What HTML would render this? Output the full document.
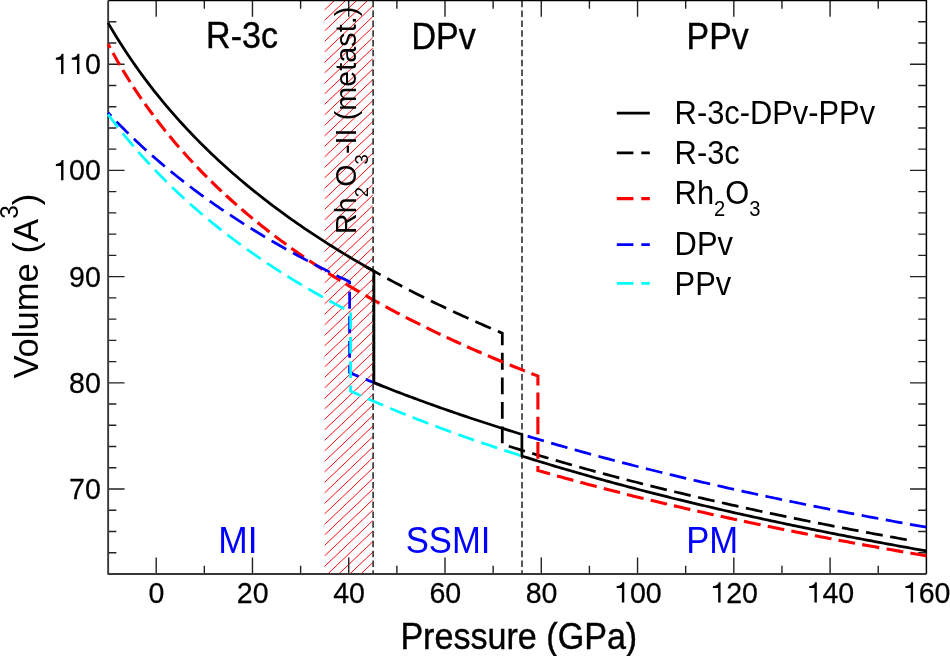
<!DOCTYPE html>
<html><head><meta charset="utf-8"><style>html,body{margin:0;padding:0;background:#fff;}svg{display:block;will-change:transform;font-family:"Liberation Sans",sans-serif;}</style></head>
<body><svg width="950" height="656" viewBox="0 0 950 656">
<rect width="950" height="656" fill="#fff"/>
<defs><clipPath id="hc"><rect x="324.67" y="0.47" width="48.13" height="573.53"/></clipPath>
<clipPath id="pc"><rect x="108.15" y="0" width="818.25" height="574.0"/></clipPath></defs>
<g clip-path="url(#hc)" stroke="#f00" stroke-width="0.95"><line x1="321.67" y1="2.19" x2="375.81" y2="-49.24"/><line x1="321.67" y1="12.69" x2="375.81" y2="-38.74"/><line x1="321.67" y1="23.19" x2="375.81" y2="-28.24"/><line x1="321.67" y1="33.69" x2="375.81" y2="-17.74"/><line x1="321.67" y1="44.19" x2="375.81" y2="-7.24"/><line x1="321.67" y1="54.69" x2="375.81" y2="3.26"/><line x1="321.67" y1="65.19" x2="375.81" y2="13.76"/><line x1="321.67" y1="75.69" x2="375.81" y2="24.26"/><line x1="321.67" y1="86.19" x2="375.81" y2="34.76"/><line x1="321.67" y1="96.69" x2="375.81" y2="45.26"/><line x1="321.67" y1="107.19" x2="375.81" y2="55.76"/><line x1="321.67" y1="117.69" x2="375.81" y2="66.26"/><line x1="321.67" y1="128.19" x2="375.81" y2="76.76"/><line x1="321.67" y1="138.69" x2="375.81" y2="87.26"/><line x1="321.67" y1="149.19" x2="375.81" y2="97.76"/><line x1="321.67" y1="159.69" x2="375.81" y2="108.26"/><line x1="321.67" y1="170.19" x2="375.81" y2="118.76"/><line x1="321.67" y1="180.69" x2="375.81" y2="129.26"/><line x1="321.67" y1="191.19" x2="375.81" y2="139.76"/><line x1="321.67" y1="201.69" x2="375.81" y2="150.26"/><line x1="321.67" y1="212.19" x2="375.81" y2="160.76"/><line x1="321.67" y1="222.69" x2="375.81" y2="171.26"/><line x1="321.67" y1="233.19" x2="375.81" y2="181.76"/><line x1="321.67" y1="243.69" x2="375.81" y2="192.26"/><line x1="321.67" y1="254.19" x2="375.81" y2="202.76"/><line x1="321.67" y1="264.69" x2="375.81" y2="213.26"/><line x1="321.67" y1="275.19" x2="375.81" y2="223.76"/><line x1="321.67" y1="285.69" x2="375.81" y2="234.26"/><line x1="321.67" y1="296.19" x2="375.81" y2="244.76"/><line x1="321.67" y1="306.69" x2="375.81" y2="255.26"/><line x1="321.67" y1="317.19" x2="375.81" y2="265.76"/><line x1="321.67" y1="327.69" x2="375.81" y2="276.26"/><line x1="321.67" y1="338.19" x2="375.81" y2="286.76"/><line x1="321.67" y1="348.69" x2="375.81" y2="297.26"/><line x1="321.67" y1="359.19" x2="375.81" y2="307.76"/><line x1="321.67" y1="369.69" x2="375.81" y2="318.26"/><line x1="321.67" y1="380.19" x2="375.81" y2="328.76"/><line x1="321.67" y1="390.69" x2="375.81" y2="339.26"/><line x1="321.67" y1="401.19" x2="375.81" y2="349.76"/><line x1="321.67" y1="411.69" x2="375.81" y2="360.26"/><line x1="321.67" y1="422.19" x2="375.81" y2="370.76"/><line x1="321.67" y1="432.69" x2="375.81" y2="381.26"/><line x1="321.67" y1="443.19" x2="375.81" y2="391.76"/><line x1="321.67" y1="453.69" x2="375.81" y2="402.26"/><line x1="321.67" y1="464.19" x2="375.81" y2="412.76"/><line x1="321.67" y1="474.69" x2="375.81" y2="423.26"/><line x1="321.67" y1="485.19" x2="375.81" y2="433.76"/><line x1="321.67" y1="495.69" x2="375.81" y2="444.26"/><line x1="321.67" y1="506.19" x2="375.81" y2="454.76"/><line x1="321.67" y1="516.69" x2="375.81" y2="465.26"/><line x1="321.67" y1="527.19" x2="375.81" y2="475.76"/><line x1="321.67" y1="537.69" x2="375.81" y2="486.26"/><line x1="321.67" y1="548.19" x2="375.81" y2="496.76"/><line x1="321.67" y1="558.69" x2="375.81" y2="507.26"/><line x1="321.67" y1="569.19" x2="375.81" y2="517.76"/><line x1="321.67" y1="579.69" x2="375.81" y2="528.26"/><line x1="321.67" y1="590.19" x2="375.81" y2="538.76"/><line x1="321.67" y1="600.69" x2="375.81" y2="549.26"/><line x1="321.67" y1="611.19" x2="375.81" y2="559.76"/><line x1="321.67" y1="621.69" x2="375.81" y2="570.26"/></g>
<g stroke="#111" stroke-width="1.4" stroke-dasharray="6.5 3.32" stroke-dashoffset="-0.3"><path d="M373.1,0.47V574.0"/><path d="M522.0,0.47V574.0"/></g>
<g stroke="#222" stroke-width="1.4" fill="none"><path d="M156.20,574.00V557.60M156.20,0.47V16.87M204.33,574.00V565.80M204.33,0.47V8.67M252.47,574.00V557.60M252.47,0.47V16.87M300.61,574.00V565.80M300.61,0.47V8.67M348.74,574.00V557.60M348.74,0.47V16.87M396.88,574.00V565.80M396.88,0.47V8.67M445.01,574.00V557.60M445.01,0.47V16.87M493.15,574.00V565.80M493.15,0.47V8.67M541.28,574.00V557.60M541.28,0.47V16.87M589.41,574.00V565.80M589.41,0.47V8.67M637.55,574.00V557.60M637.55,0.47V16.87M685.68,574.00V565.80M685.68,0.47V8.67M733.82,574.00V557.60M733.82,0.47V16.87M781.95,574.00V565.80M781.95,0.47V8.67M830.09,574.00V557.60M830.09,0.47V16.87M878.23,574.00V565.80M878.23,0.47V8.67M108.15,552.77H116.35M926.40,552.77H918.20M108.15,531.52H116.35M926.40,531.52H918.20M108.15,510.28H116.35M926.40,510.28H918.20M108.15,489.04H124.55M926.40,489.04H910.00M108.15,467.80H116.35M926.40,467.80H918.20M108.15,446.56H116.35M926.40,446.56H918.20M108.15,425.31H116.35M926.40,425.31H918.20M108.15,404.07H116.35M926.40,404.07H918.20M108.15,382.83H124.55M926.40,382.83H910.00M108.15,361.59H116.35M926.40,361.59H918.20M108.15,340.35H116.35M926.40,340.35H918.20M108.15,319.10H116.35M926.40,319.10H918.20M108.15,297.86H116.35M926.40,297.86H918.20M108.15,276.62H124.55M926.40,276.62H910.00M108.15,255.38H116.35M926.40,255.38H918.20M108.15,234.14H116.35M926.40,234.14H918.20M108.15,212.89H116.35M926.40,212.89H918.20M108.15,191.65H116.35M926.40,191.65H918.20M108.15,170.41H124.55M926.40,170.41H910.00M108.15,149.17H116.35M926.40,149.17H918.20M108.15,127.93H116.35M926.40,127.93H918.20M108.15,106.68H116.35M926.40,106.68H918.20M108.15,85.44H116.35M926.40,85.44H918.20M108.15,64.20H124.55M926.40,64.20H910.00M108.15,42.96H116.35M926.40,42.96H918.20M108.15,21.72H116.35M926.40,21.72H918.20"/></g>
<path d="M108.15,0.47H926.4V574.0" fill="none" stroke="#000" stroke-width="1.5"/>
<path d="M108.15,0.47V574.0H926.4" fill="none" stroke="#383838" stroke-width="1.9" stroke-linejoin="round"/>
<g fill="none" stroke-width="2.75" stroke-linejoin="miter">
<path d="M365.87,266.59 L368.87,268.30 L371.90,270.01 L374.93,271.71 L377.96,273.39 L380.62,274.86M387.30,278.50 L390.09,280.01 L393.13,281.63 L396.16,283.24 L399.19,284.84 L402.22,286.43 L402.24,286.44M408.99,289.93 L411.32,291.12 L414.36,292.66 L417.39,294.19 L420.42,295.71 L423.45,297.22 L424.09,297.54M430.91,300.89 L432.55,301.69 L435.58,303.16 L438.62,304.62 L441.65,306.06 L444.68,307.50 L446.17,308.20M453.05,311.42 L453.78,311.76 L456.81,313.16 L459.84,314.56 L462.88,315.94 L465.91,317.31 L468.44,318.45M475.38,321.55 L478.04,322.72 L481.07,324.06 L484.10,325.38 L487.14,326.69 L490.17,328.00 L490.89,328.31M497.88,331.29 L499.27,331.87 L502.30,333.15 L502.30,345.27M502.30,352.87 L502.30,369.78M502.30,377.38 L502.30,394.30M502.30,401.90 L502.30,418.81M502.30,426.41 L502.30,443.33M508.76,446.20 L511.37,447.02 L514.40,447.96 L517.42,448.90 L520.44,449.83 L523.47,450.76 L524.92,451.21M532.19,453.41 L532.54,453.52 L535.56,454.43 L538.59,455.33 L541.61,456.23 L544.63,457.13 L547.66,458.02 L548.40,458.24M555.70,460.36 L556.73,460.66 L559.75,461.54 L562.78,462.40 L565.80,463.27 L568.83,464.13 L571.85,464.98 L571.96,465.02M579.28,467.07 L580.92,467.52 L583.94,468.36 L586.97,469.20 L589.99,470.03 L593.02,470.85 L595.59,471.55M602.93,473.54 L605.11,474.12 L608.14,474.93 L611.16,475.73 L614.18,476.53 L617.21,477.32 L619.28,477.87M626.64,479.78 L629.30,480.47 L632.33,481.25 L635.35,482.02 L638.37,482.79 L641.40,483.56 L643.03,483.97M650.40,485.82 L650.47,485.83 L653.49,486.59 L656.52,487.34 L659.54,488.08 L662.57,488.82 L665.59,489.56 L666.82,489.86M674.21,491.65 L674.66,491.76 L677.69,492.49 L680.71,493.21 L683.73,493.93 L686.76,494.65 L689.78,495.36 L690.67,495.57M698.07,497.30 L698.85,497.48 L701.88,498.18 L704.90,498.88 L707.92,499.58 L710.95,500.27 L713.97,500.96 L714.55,501.09M721.96,502.77 L723.04,503.01 L726.07,503.69 L729.09,504.37 L732.11,505.04 L735.14,505.71 L738.16,506.38 L738.48,506.44M745.90,508.07 L747.23,508.36 L750.26,509.02 L753.28,509.67 L756.31,510.32 L759.33,510.97 L762.35,511.61 L762.44,511.63M769.87,513.21 L771.43,513.54 L774.45,514.17 L777.47,514.81 L780.50,515.44 L783.52,516.06 L786.43,516.67M793.87,518.20 L795.62,518.55 L798.64,519.17 L801.66,519.78 L804.69,520.39 L807.71,521.00 L810.45,521.55M817.91,523.04 L819.81,523.41 L822.83,524.01 L825.86,524.61 L828.88,525.20 L831.90,525.79 L834.51,526.30M841.97,527.74 L844.00,528.13 L847.02,528.71 L850.05,529.29 L853.07,529.86 L856.09,530.44 L858.58,530.91M866.05,532.31 L868.19,532.71 L871.21,533.27 L874.24,533.84 L877.26,534.40 L880.29,534.95 L882.69,535.39M890.16,536.76 L892.38,537.16 L895.40,537.71 L898.43,538.25 L901.45,538.80 L904.48,539.34 L906.81,539.76" stroke="#000"/>
<path d="M108.06,44.04 L110.17,47.93M112.99,53.06 L114.12,55.11 L117.15,60.43 L119.76,64.92M122.76,69.95 L123.20,70.69 L126.23,75.63 L129.25,80.46 L130.24,82.00M133.54,87.11 L135.31,89.80 L138.34,94.33 L141.36,98.75 L141.47,98.90M144.97,103.89 L147.42,107.33 L150.44,111.50 L152.99,114.93M156.51,119.61 L159.52,123.52 L162.55,127.38 L165.58,131.16M169.56,136.04 L171.63,138.55 L174.66,142.15 L177.69,145.69 L179.04,147.25M183.20,151.98 L183.74,152.59 L186.77,155.96 L189.79,159.28 L192.81,162.53M197.01,166.98 L198.88,168.93 L201.90,172.05 L204.93,175.13 L206.96,177.16M211.29,181.46 L214.01,184.10 L217.04,187.01 L220.06,189.88 L221.58,191.30M226.05,195.44 L226.12,195.51 L229.15,198.27 L232.17,200.99 L235.20,203.68 L236.84,205.12M241.53,209.19 L244.28,211.54 L247.31,214.10 L250.33,216.63 L252.71,218.59M257.56,222.54 L259.42,224.04 L262.44,226.45 L265.47,228.84 L268.50,231.20 L269.45,231.93M274.60,235.87 L277.58,238.12 L280.60,240.38 L283.63,242.61 L286.27,244.54M291.32,248.19 L292.71,249.18 L295.74,251.32 L298.77,253.45 L301.79,255.55 L303.87,256.97M309.29,260.66 L310.87,261.73 L313.90,263.75 L316.93,265.75 L319.96,267.73 L322.55,269.42M328.29,273.09 L329.04,273.57 L332.06,275.48 L335.09,277.38 L338.12,279.25 L340.39,280.65M345.62,283.83 L347.20,284.78 L350.23,286.60 L353.25,288.39 L356.28,290.17 L359.31,291.94 L359.45,292.02M365.42,295.46 L368.39,297.15 L371.41,298.86 L374.44,300.55 L377.47,302.23 L379.45,303.32M385.50,306.62 L386.55,307.20 L389.58,308.82 L392.60,310.44 L395.63,312.04 L398.66,313.63 L399.65,314.15M405.75,317.31 L407.74,318.33 L410.77,319.88 L413.79,321.41 L416.82,322.93 L419.85,324.44 L420.22,324.62M426.45,327.69 L428.93,328.91 L431.95,330.37 L434.98,331.83 L438.01,333.28 L440.59,334.50M446.67,337.36 L447.09,337.56 L450.12,338.96 L453.14,340.36 L456.17,341.75 L459.20,343.13 L460.93,343.91M467.07,346.67 L468.28,347.21 L471.31,348.55 L474.33,349.89 L477.36,351.21 L480.39,352.53 L481.61,353.06M487.87,355.74 L489.47,356.43 L492.49,357.71 L495.52,358.99 L498.55,360.26 L501.58,361.52 L503.13,362.16M509.69,364.86 L510.66,365.25 L513.68,366.48 L516.71,367.70 L519.74,368.92 L522.76,370.13 L524.88,370.97M531.41,373.54 L531.85,373.71 L534.87,374.89 L537.90,376.06 L537.90,385.55M537.90,392.60 L537.90,409.54M537.90,416.80 L537.90,434.37M537.90,441.90 L537.90,458.84M537.90,466.10 L537.90,470.47 L540.93,471.34 L543.97,472.21 L547.00,473.08 L550.00,473.92M556.99,475.89 L559.14,476.49 L562.18,477.33 L565.21,478.17 L568.25,479.01 L571.28,479.84 L573.33,480.40M580.34,482.29 L580.39,482.31 L583.42,483.12 L586.46,483.93 L589.49,484.74 L592.53,485.54 L595.56,486.34 L596.72,486.65M603.75,488.48 L604.67,488.71 L607.70,489.50 L610.74,490.28 L613.77,491.06 L616.81,491.83 L619.84,492.60 L620.02,492.64M627.00,494.40 L628.95,494.89 L631.98,495.64 L635.01,496.39 L638.05,497.14 L641.08,497.89 L643.57,498.49M650.67,500.22 L653.22,500.83 L656.26,501.56 L659.29,502.29 L662.33,503.01 L665.36,503.73 L666.97,504.11M673.96,505.75 L674.47,505.87 L677.50,506.57 L680.54,507.28 L683.57,507.98 L686.61,508.67 L689.64,509.37 L690.29,509.51M697.29,511.10 L698.75,511.43 L701.78,512.11 L704.82,512.79 L707.85,513.47 L710.89,514.15 L713.64,514.76M720.66,516.30 L723.03,516.81 L726.06,517.47 L729.10,518.13 L732.13,518.79 L735.16,519.44 L736.97,519.82M743.96,521.31 L744.27,521.38 L747.30,522.02 L750.34,522.66 L753.37,523.29 L756.41,523.93 L759.44,524.56 L760.61,524.80M767.75,526.27 L768.55,526.44 L771.58,527.06 L774.62,527.68 L777.65,528.30 L780.69,528.91 L783.72,529.52 L784.24,529.63M791.32,531.04 L792.83,531.34 L795.86,531.94 L798.90,532.54 L801.93,533.14 L804.97,533.74 L807.84,534.30M814.92,535.67 L817.11,536.10 L820.14,536.68 L823.18,537.26 L826.21,537.84 L829.24,538.42 L831.45,538.84M838.54,540.18 L841.38,540.71 L844.42,541.28 L847.45,541.84 L850.49,542.41 L853.52,542.97 L855.09,543.26M862.19,544.56 L862.63,544.64 L865.66,545.19 L868.70,545.74 L871.73,546.29 L874.77,546.84 L877.80,547.38 L879.26,547.64M886.57,548.95 L886.91,549.01 L889.94,549.54 L892.98,550.08 L896.01,550.61 L899.05,551.14 L902.08,551.67 L903.24,551.88M910.38,553.11 L911.19,553.25 L914.22,553.78 L917.26,554.30 L920.29,554.82 L923.33,555.33 L926.36,555.85" stroke="#f00" stroke-width="3.1"/>
<path d="M108.06,112.80 L111.12,116.05 L111.20,116.13M116.47,121.61 L117.24,122.40 L120.29,125.51 L123.35,128.58 L126.41,131.61 L128.43,133.58M133.91,138.86 L135.58,140.44 L138.64,143.31 L141.70,146.14 L144.75,148.93 L146.33,150.36M152.01,155.42 L153.93,157.11 L156.98,159.77 L160.04,162.39 L163.10,164.98 L164.85,166.45M170.71,171.30 L172.27,172.58 L175.33,175.05 L178.39,177.50 L181.44,179.91 L183.94,181.87M189.97,186.51 L190.61,187.00 L193.67,189.31 L196.73,191.59 L199.79,193.85 L202.84,196.09 L203.56,196.61M209.74,201.04 L212.02,202.66 L215.07,204.80 L218.13,206.92 L221.19,209.02 L223.64,210.69M229.96,214.93 L230.36,215.19 L233.42,217.21 L236.48,219.21 L239.53,221.19 L242.59,223.14 L244.16,224.14M250.60,228.19 L251.76,228.91 L254.82,230.79 L257.88,232.66 L260.94,234.51 L263.99,236.35 L265.07,236.99M271.62,240.85 L273.16,241.75 L276.22,243.52 L279.28,245.27 L282.34,247.01 L285.39,248.73 L286.32,249.25M292.97,252.93 L294.57,253.81 L297.62,255.47 L300.68,257.12 L303.74,258.76 L306.80,260.38 L307.88,260.95M314.62,264.47 L315.97,265.17 L319.03,266.74 L322.08,268.30 L325.14,269.84 L328.20,271.38 L329.72,272.13M336.54,275.50 L337.37,275.90 L340.43,277.39 L343.49,278.86 L346.54,280.33 L349.60,281.78 L349.60,284.22M349.60,291.82 L349.60,308.75M349.60,316.36 L349.60,333.29M349.60,340.90 L349.60,357.83M349.60,365.43 L349.60,372.61 L352.62,373.89 L355.64,375.16 L358.59,376.39M365.62,379.29 L367.72,380.15 L370.74,381.38 L373.76,382.60 L376.78,383.82 L379.80,385.02 L381.32,385.63M527.62,436.14 L527.76,436.18 L530.78,437.09 L533.80,437.99 L536.82,438.89 L539.84,439.78 L542.86,440.67 L543.85,440.96M551.15,443.09 L551.92,443.32 L554.94,444.19 L557.96,445.06 L560.98,445.92 L564.00,446.78 L567.02,447.63 L567.43,447.75M574.75,449.80 L576.08,450.18 L579.10,451.01 L582.12,451.85 L585.14,452.68 L588.16,453.51 L591.07,454.30M598.41,456.29 L600.23,456.78 L603.25,457.58 L606.27,458.39 L609.29,459.19 L612.31,459.99 L614.77,460.63M622.13,462.55 L624.39,463.14 L627.41,463.92 L630.43,464.69 L633.45,465.46 L636.47,466.23 L638.53,466.75M645.91,468.61 L648.55,469.27 L651.57,470.02 L654.59,470.77 L657.61,471.51 L660.63,472.26 L662.34,472.68M669.73,474.47 L672.71,475.19 L675.73,475.92 L678.75,476.64 L681.77,477.36 L684.79,478.08 L686.20,478.41M693.60,480.15 L693.84,480.21 L696.86,480.91 L699.88,481.61 L702.90,482.31 L705.92,483.01 L708.94,483.70 L710.10,483.97M717.51,485.65 L718.00,485.77 L721.02,486.45 L724.04,487.13 L727.06,487.80 L730.08,488.48 L733.10,489.15 L734.04,489.35M741.46,490.99 L742.16,491.14 L745.18,491.80 L748.20,492.46 L751.22,493.12 L754.24,493.77 L757.26,494.42 L758.01,494.58M765.45,496.17 L766.32,496.35 L769.34,496.99 L772.36,497.63 L775.38,498.26 L778.40,498.90 L781.42,499.53 L782.01,499.65M789.46,501.19 L790.47,501.40 L793.49,502.02 L796.51,502.64 L799.53,503.26 L802.55,503.87 L805.57,504.48 L806.05,504.58M813.51,506.08 L814.63,506.30 L817.65,506.90 L820.67,507.50 L823.69,508.10 L826.71,508.70 L829.73,509.29 L830.11,509.36M837.58,510.82 L838.79,511.06 L841.81,511.64 L844.83,512.22 L847.85,512.80 L850.87,513.38 L853.89,513.96 L854.20,514.02M861.68,515.44 L862.95,515.68 L865.97,516.24 L868.99,516.81 L872.01,517.38 L875.03,517.94 L878.05,518.50 L878.32,518.55M885.80,519.93 L887.10,520.17 L890.12,520.72 L893.14,521.27 L896.16,521.82 L899.18,522.37 L902.20,522.91 L902.45,522.96M909.94,524.30 L911.26,524.53 L914.28,525.07 L917.30,525.61 L920.32,526.14 L923.34,526.67 L926.36,527.21" stroke="#00f"/>
<path d="M108.06,114.43 L111.14,118.53 L114.21,122.54 L117.28,126.49 L118.03,127.45M122.74,133.35 L123.42,134.19 L126.49,137.94 L129.56,141.63 L132.63,145.25 L133.49,146.26M138.44,151.96 L138.77,152.34 L141.84,155.79 L144.91,159.20 L147.98,162.55 L149.71,164.41M154.89,169.90 L157.19,172.30 L160.26,175.45 L163.33,178.56 L166.40,181.63 L166.65,181.88M172.05,187.16 L172.54,187.63 L175.61,190.57 L178.68,193.47 L181.75,196.33 L184.29,198.66M189.89,203.72 L190.96,204.68 L194.03,207.39 L197.10,210.07 L200.17,212.71 L202.56,214.74M208.35,219.59 L209.38,220.44 L212.45,222.95 L215.52,225.44 L218.59,227.89 L221.42,230.13M227.38,234.76 L227.80,235.08 L230.87,237.42 L233.94,239.73 L237.01,242.02 L240.08,244.28 L240.83,244.83M246.94,249.25 L249.29,250.92 L252.36,253.08 L255.43,255.22 L258.50,257.34 L260.72,258.86M266.98,263.07 L267.71,263.56 L270.78,265.59 L273.85,267.60 L276.92,269.59 L279.99,271.56 L281.05,272.24M287.44,276.26 L289.20,277.36 L292.27,279.25 L295.34,281.12 L298.41,282.98 L301.48,284.82 L301.78,285.00M308.28,288.83 L310.69,290.23 L313.76,292.01 L316.83,293.76 L319.90,295.50 L322.87,297.16M329.47,300.82 L332.18,302.30 L335.25,303.96 L338.32,305.61 L341.39,307.25 L344.27,308.76M350.60,312.47 L350.60,329.27M350.60,336.81 L350.60,353.61M350.60,361.16 L350.60,377.95M350.60,385.50 L350.60,391.04 L353.63,392.42 L356.66,393.79 L359.69,395.14 L360.86,395.66M367.76,398.71 L368.78,399.15 L371.81,400.47 L374.84,401.78 L377.87,403.08 L380.90,404.37 L383.20,405.34M390.16,408.25 L393.02,409.44 L396.05,410.69 L399.09,411.92 L402.12,413.15 L405.15,414.37 L405.71,414.60M412.72,417.39 L414.24,417.99 L417.27,419.18 L420.30,420.36 L423.33,421.53 L426.36,422.70 L428.38,423.47M435.43,426.15 L435.45,426.15 L438.48,427.29 L441.51,428.42 L444.54,429.54 L447.57,430.65 L450.60,431.76 L451.19,431.98M458.28,434.54 L459.69,435.05 L462.72,436.13 L465.75,437.20 L468.78,438.27 L471.81,439.33 L474.12,440.14M481.25,442.60 L483.93,443.52 L486.96,444.55 L489.99,445.57 L493.02,446.59 L496.06,447.60 L497.17,447.97M504.33,450.34 L505.15,450.60 L508.18,451.59 L511.21,452.58 L514.24,453.56 L517.27,454.53 L520.30,455.50 L520.32,455.50" stroke="#0ff"/>
<path d="M108.06,22.86 L111.12,28.08 L114.18,33.19 L117.23,38.17 L120.29,43.04 L123.34,47.81 L126.40,52.48 L129.45,57.04 L132.51,61.52 L135.57,65.91 L138.62,70.20 L141.68,74.42 L144.73,78.56 L147.79,82.62 L150.84,86.61 L153.90,90.53 L156.95,94.37 L160.01,98.16 L163.07,101.88 L166.12,105.53 L169.18,109.13 L172.23,112.67 L175.29,116.16 L178.34,119.59 L181.40,122.96 L184.45,126.29 L187.51,129.57 L190.57,132.80 L193.62,135.98 L196.68,139.12 L199.73,142.22 L202.79,145.27 L205.84,148.28 L208.90,151.25 L211.95,154.18 L215.01,157.07 L218.07,159.92 L221.12,162.74 L224.18,165.53 L227.23,168.27 L230.29,170.99 L233.34,173.67 L236.40,176.32 L239.45,178.94 L242.51,181.53 L245.57,184.08 L248.62,186.61 L251.68,189.11 L254.73,191.58 L257.79,194.03 L260.84,196.45 L263.90,198.84 L266.95,201.20 L270.01,203.54 L273.07,205.86 L276.12,208.15 L279.18,210.42 L282.23,212.66 L285.29,214.89 L288.34,217.09 L291.40,219.26 L294.46,221.42 L297.51,223.56 L300.57,225.67 L303.62,227.77 L306.68,229.84 L309.73,231.90 L312.79,233.94 L315.84,235.95 L318.90,237.95 L321.96,239.94 L325.01,241.90 L328.07,243.85 L331.12,245.77 L334.18,247.69 L337.23,249.58 L340.29,251.46 L343.34,253.33 L346.40,255.17 L349.46,257.01 L352.51,258.82 L355.57,260.62 L358.62,262.41 L361.68,264.18 L364.73,265.94 L367.79,267.69 L370.84,269.42 L373.90,271.13 L373.90,382.66 L376.98,383.90 L380.07,385.13 L383.15,386.35 L386.23,387.57 L389.32,388.77 L392.40,389.97 L395.48,391.16 L398.57,392.35 L401.65,393.53 L404.73,394.69 L407.82,395.86 L410.90,397.01 L413.98,398.16 L417.07,399.30 L420.15,400.43 L423.23,401.56 L426.32,402.68 L429.40,403.80 L432.48,404.90 L435.57,406.00 L438.65,407.10 L441.73,408.18 L444.82,409.27 L447.90,410.34 L450.98,411.41 L454.07,412.47 L457.15,413.53 L460.23,414.58 L463.32,415.62 L466.40,416.66 L469.48,417.69 L472.57,418.72 L475.65,419.74 L478.73,420.76 L481.82,421.77 L484.90,422.77 L487.98,423.77 L491.07,424.76 L494.15,425.75 L497.23,426.73 L500.32,427.71 L503.40,428.68 L506.48,429.65 L509.57,430.61 L512.65,431.56 L515.73,432.52 L518.82,433.46 L521.90,434.40 L521.90,456.01 L524.94,456.97 L527.98,457.92 L531.02,458.88 L534.06,459.82 L537.11,460.76 L540.15,461.70 L543.19,462.63 L546.23,463.56 L549.27,464.48 L552.31,465.40 L555.35,466.31 L558.39,467.21 L561.43,468.11 L564.47,469.01 L567.52,469.90 L570.56,470.79 L573.60,471.67 L576.64,472.55 L579.68,473.43 L582.72,474.29 L585.76,475.16 L588.80,476.02 L591.84,476.88 L594.89,477.73 L597.93,478.57 L600.97,479.42 L604.01,480.26 L607.05,481.09 L610.09,481.92 L613.13,482.75 L616.17,483.57 L619.21,484.39 L622.25,485.20 L625.30,486.01 L628.34,486.82 L631.38,487.62 L634.42,488.42 L637.46,489.21 L640.50,490.00 L643.54,490.79 L646.58,491.57 L649.62,492.35 L652.67,493.13 L655.71,493.90 L658.75,494.67 L661.79,495.44 L664.83,496.20 L667.87,496.95 L670.91,497.71 L673.95,498.46 L676.99,499.21 L680.03,499.95 L683.08,500.69 L686.12,501.43 L689.16,502.16 L692.20,502.89 L695.24,503.62 L698.28,504.35 L701.32,505.07 L704.36,505.78 L707.40,506.50 L710.45,507.21 L713.49,507.92 L716.53,508.62 L719.57,509.33 L722.61,510.02 L725.65,510.72 L728.69,511.41 L731.73,512.10 L734.77,512.79 L737.81,513.47 L740.86,514.16 L743.90,514.83 L746.94,515.51 L749.98,516.18 L753.02,516.85 L756.06,517.52 L759.10,518.18 L762.14,518.84 L765.18,519.50 L768.23,520.16 L771.27,520.81 L774.31,521.46 L777.35,522.11 L780.39,522.75 L783.43,523.40 L786.47,524.04 L789.51,524.67 L792.55,525.31 L795.59,525.94 L798.64,526.57 L801.68,527.20 L804.72,527.82 L807.76,528.44 L810.80,529.06 L813.84,529.68 L816.88,530.29 L819.92,530.91 L822.96,531.52 L826.01,532.12 L829.05,532.73 L832.09,533.33 L835.13,533.93 L838.17,534.53 L841.21,535.13 L844.25,535.72 L847.29,536.31 L850.33,536.90 L853.37,537.49 L856.42,538.07 L859.46,538.65 L862.50,539.23 L865.54,539.81 L868.58,540.39 L871.62,540.96 L874.66,541.53 L877.70,542.10 L880.74,542.67 L883.79,543.24 L886.83,543.80 L889.87,544.36 L892.91,544.92 L895.95,545.48 L898.99,546.03 L902.03,546.58 L905.07,547.14 L908.11,547.68 L911.15,548.23 L914.20,548.78 L917.24,549.32 L920.28,549.86 L923.32,550.40 L926.36,550.94" stroke="#000"/>
</g>
<g fill="none"><path d="M616.8,113.2H649.8" stroke="#000" stroke-width="2.75"/><path d="M616.8,152.8H649.8" stroke="#000" stroke-width="2.75" stroke-dasharray="16.6 7.9"/><path d="M616.8,198.6H649.8" stroke="#f00" stroke-width="3.1" stroke-dasharray="16.6 7.9"/><path d="M616.8,244.7H649.8" stroke="#00f" stroke-width="2.75" stroke-dasharray="16.6 7.9"/><path d="M616.8,283.3H649.8" stroke="#0ff" stroke-width="2.75" stroke-dasharray="16.6 7.9"/></g>
<g font-family="Liberation Sans, sans-serif"><text transform="translate(148.55,602.60) scale(0.941,1)" font-size="30.4" text-anchor="start" fill="#000" stroke="#000" stroke-width="0.25">0</text><text transform="translate(236.86,602.60) scale(0.941,1)" font-size="30.4" text-anchor="start" fill="#000" stroke="#000" stroke-width="0.25">2</text><text transform="translate(252.77,602.60) scale(0.941,1)" font-size="30.4" text-anchor="start" fill="#000" stroke="#000" stroke-width="0.25">0</text><text transform="translate(333.13,602.60) scale(0.941,1)" font-size="30.4" text-anchor="start" fill="#000" stroke="#000" stroke-width="0.25">4</text><text transform="translate(349.04,602.60) scale(0.941,1)" font-size="30.4" text-anchor="start" fill="#000" stroke="#000" stroke-width="0.25">0</text><text transform="translate(429.40,602.60) scale(0.941,1)" font-size="30.4" text-anchor="start" fill="#000" stroke="#000" stroke-width="0.25">6</text><text transform="translate(445.31,602.60) scale(0.941,1)" font-size="30.4" text-anchor="start" fill="#000" stroke="#000" stroke-width="0.25">0</text><text transform="translate(525.67,602.60) scale(0.941,1)" font-size="30.4" text-anchor="start" fill="#000" stroke="#000" stroke-width="0.25">8</text><text transform="translate(541.58,602.60) scale(0.941,1)" font-size="30.4" text-anchor="start" fill="#000" stroke="#000" stroke-width="0.25">0</text><path d="M621.89,602.40H624.29V582.20H622.49C622.09,584.30 620.59,585.80 616.69,586.10V588.10H621.89Z" fill="#000"/><text transform="translate(629.90,602.60) scale(0.941,1)" font-size="30.4" text-anchor="start" fill="#000" stroke="#000" stroke-width="0.25">0</text><text transform="translate(645.80,602.60) scale(0.941,1)" font-size="30.4" text-anchor="start" fill="#000" stroke="#000" stroke-width="0.25">0</text><path d="M718.16,602.40H720.56V582.20H718.76C718.36,584.30 716.86,585.80 712.96,586.10V588.10H718.16Z" fill="#000"/><text transform="translate(726.17,602.60) scale(0.941,1)" font-size="30.4" text-anchor="start" fill="#000" stroke="#000" stroke-width="0.25">2</text><text transform="translate(742.07,602.60) scale(0.941,1)" font-size="30.4" text-anchor="start" fill="#000" stroke="#000" stroke-width="0.25">0</text><path d="M814.43,602.40H816.83V582.20H815.03C814.63,584.30 813.13,585.80 809.23,586.10V588.10H814.43Z" fill="#000"/><text transform="translate(822.44,602.60) scale(0.941,1)" font-size="30.4" text-anchor="start" fill="#000" stroke="#000" stroke-width="0.25">4</text><text transform="translate(838.34,602.60) scale(0.941,1)" font-size="30.4" text-anchor="start" fill="#000" stroke="#000" stroke-width="0.25">0</text><path d="M910.70,602.40H913.10V582.20H911.30C910.90,584.30 909.40,585.80 905.50,586.10V588.10H910.70Z" fill="#000"/><text transform="translate(918.71,602.60) scale(0.941,1)" font-size="30.4" text-anchor="start" fill="#000" stroke="#000" stroke-width="0.25">6</text><text transform="translate(934.61,602.60) scale(0.941,1)" font-size="30.4" text-anchor="start" fill="#000" stroke="#000" stroke-width="0.25">0</text><text transform="translate(69.08,499.04) scale(0.941,1)" font-size="30.4" text-anchor="start" fill="#000" stroke="#000" stroke-width="0.25">7</text><text transform="translate(84.99,499.04) scale(0.941,1)" font-size="30.4" text-anchor="start" fill="#000" stroke="#000" stroke-width="0.25">0</text><text transform="translate(69.08,392.83) scale(0.941,1)" font-size="30.4" text-anchor="start" fill="#000" stroke="#000" stroke-width="0.25">8</text><text transform="translate(84.99,392.83) scale(0.941,1)" font-size="30.4" text-anchor="start" fill="#000" stroke="#000" stroke-width="0.25">0</text><text transform="translate(69.08,286.62) scale(0.941,1)" font-size="30.4" text-anchor="start" fill="#000" stroke="#000" stroke-width="0.25">9</text><text transform="translate(84.99,286.62) scale(0.941,1)" font-size="30.4" text-anchor="start" fill="#000" stroke="#000" stroke-width="0.25">0</text><path d="M61.07,180.21H63.47V160.01H61.67C61.27,162.11 59.77,163.61 55.87,163.91V165.91H61.07Z" fill="#000"/><text transform="translate(69.08,180.41) scale(0.941,1)" font-size="30.4" text-anchor="start" fill="#000" stroke="#000" stroke-width="0.25">0</text><text transform="translate(84.99,180.41) scale(0.941,1)" font-size="30.4" text-anchor="start" fill="#000" stroke="#000" stroke-width="0.25">0</text><path d="M61.07,74.00H63.47V53.80H61.67C61.27,55.90 59.77,57.40 55.87,57.70V59.70H61.07Z" fill="#000"/><path d="M76.98,74.00H79.38V53.80H77.58C77.18,55.90 75.68,57.40 71.78,57.70V59.70H76.98Z" fill="#000"/><text transform="translate(84.99,74.20) scale(0.941,1)" font-size="30.4" text-anchor="start" fill="#000" stroke="#000" stroke-width="0.25">0</text><text transform="translate(518.80,648.60) scale(0.932,1)" font-size="36.6" text-anchor="middle" fill="#000" stroke="#000" stroke-width="0.4">Pressure (GPa)</text><text transform="translate(37.6,286.2) rotate(-90) scale(0.973,1)" font-size="35.6" text-anchor="middle">Volume (A<tspan font-size="25" dy="-20">3</tspan><tspan dy="20">)</tspan></text><text transform="translate(242.00,48.10) scale(0.94,1)" font-size="36.2" text-anchor="middle" fill="#000" stroke="#000" stroke-width="0.4">R-3c</text><text transform="translate(443.60,48.50) scale(0.93,1)" font-size="36.6" text-anchor="middle" fill="#000" stroke="#000" stroke-width="0.4">DPv</text><text transform="translate(717.60,48.50) scale(0.925,1)" font-size="36.6" text-anchor="middle" fill="#000" stroke="#000" stroke-width="0.4">PPv</text><text transform="translate(237.90,552.90) scale(0.975,1)" font-size="36.3" text-anchor="middle" fill="#00f">MI</text><text transform="translate(448.10,552.70) scale(0.955,1)" font-size="36.3" text-anchor="middle" fill="#00f">SSMI</text><text transform="translate(712.20,552.90) scale(0.955,1)" font-size="36.3" text-anchor="middle" fill="#00f">PM</text><text transform="translate(674.60,124.40) scale(0.935,1)" font-size="33" text-anchor="start" fill="#000">R-3c-DPv-PPv</text><text transform="translate(674.60,163.50) scale(0.935,1)" font-size="33" text-anchor="start" fill="#000">R-3c</text><text transform="translate(674.60,203.80) scale(0.935,1)" font-size="33" text-anchor="start" fill="#000">Rh<tspan font-size="21.6" dy="12">2</tspan><tspan dy="-12">O</tspan><tspan font-size="21.6" dy="12">3</tspan></text><text transform="translate(674.60,255.30) scale(0.935,1)" font-size="33" text-anchor="start" fill="#000">DPv</text><text transform="translate(674.60,294.50) scale(0.935,1)" font-size="33" text-anchor="start" fill="#000">PPv</text><text transform="translate(355.7,234.0) rotate(-90)" font-size="28.6" letter-spacing="0.1">Rh<tspan font-size="18.5" dy="12.3">2</tspan><tspan dy="-12.3">O</tspan><tspan font-size="18.5" dy="12.3">3</tspan><tspan dy="-12.3">-II (metast.)</tspan></text></g>
</svg></body></html>
